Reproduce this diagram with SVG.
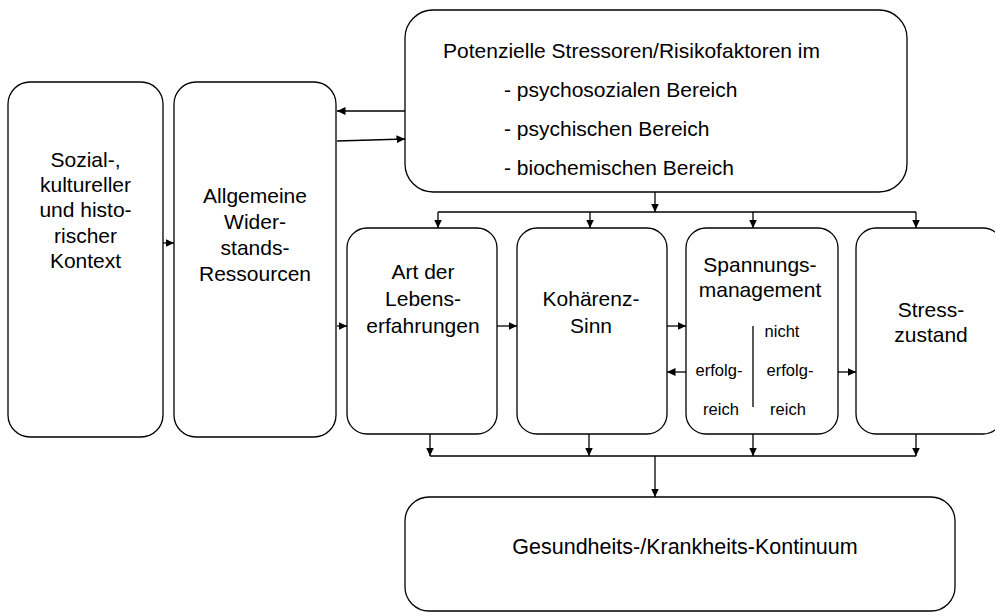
<svg xmlns="http://www.w3.org/2000/svg" width="995" height="616" viewBox="0 0 995 616">
<style>
.box{fill:#fff;stroke:#000;stroke-width:1.3}
.t{font-family:"Liberation Sans",Arial,sans-serif;font-size:21px;fill:#000;text-anchor:middle}
.ts{font-family:"Liberation Sans",Arial,sans-serif;font-size:21px;fill:#000}
.sm{font-family:"Liberation Sans",Arial,sans-serif;font-size:16.5px;fill:#000;text-anchor:middle}
.c{fill:none;stroke:#000;stroke-width:1.3}
.a{fill:none;stroke:#000;stroke-width:1.3;marker-end:url(#ah)}
</style>
<defs>
<marker id="ah" markerUnits="userSpaceOnUse" markerWidth="9" markerHeight="8" refX="8.5" refY="4" orient="auto">
<path d="M0,0 L8.5,4 L0,8 z" fill="#000"/>
</marker>
</defs>
<rect width="995" height="616" fill="#fff"/>
<g id="sozial">
<rect class="box" x="8" y="82" width="155" height="355" rx="22"/>
<text class="t" x="85.5" y="167">Sozial-,</text>
<text class="t" x="85.5" y="192">kultureller</text>
<text class="t" x="85.5" y="217">und histo-</text>
<text class="t" x="85.5" y="243">rischer</text>
<text class="t" x="85.5" y="268">Kontext</text>
</g>
<g id="allgemeine">
<rect class="box" x="174" y="82" width="162" height="355" rx="22"/>
<text class="t" x="255" y="203">Allgemeine</text>
<text class="t" x="255" y="229">Wider-</text>
<text class="t" x="255" y="255">stands-</text>
<text class="t" x="255" y="281">Ressourcen</text>
</g>
<g id="stressoren">
<rect class="box" x="405" y="10" width="502" height="182" rx="28"/>
<text class="ts" x="443" y="58">Potenzielle Stressoren/Risikofaktoren im</text>
<text class="ts" x="504" y="97">- psychosozialen Bereich</text>
<text class="ts" x="504" y="136">- psychischen Bereich</text>
<text class="ts" x="504" y="175">- biochemischen Bereich</text>
</g>
<g id="lebenserfahrungen">
<rect class="box" x="347" y="228" width="150" height="206" rx="20"/>
<text class="t" x="423" y="279">Art der</text>
<text class="t" x="423" y="306">Lebens-</text>
<text class="t" x="423" y="333">erfahrungen</text>
</g>
<g id="kohaerenz">
<rect class="box" x="517" y="228" width="150" height="206" rx="20"/>
<text class="t" x="591" y="306">Kohärenz-</text>
<text class="t" x="591" y="333">Sinn</text>
</g>
<g id="spannungsmanagement">
<rect class="box" x="686" y="228" width="152" height="206" rx="20"/>
<text class="t" x="760" y="272">Spannungs-</text>
<text class="t" x="760" y="297">management</text>
<path class="c" d="M753,326 V407"/>
<text class="sm" x="782" y="337">nicht</text>
<text class="sm" x="719" y="376">erfolg-</text>
<text class="sm" x="790" y="376">erfolg-</text>
<text class="sm" x="721" y="415">reich</text>
<text class="sm" x="788" y="415">reich</text>
</g>
<g id="stresszustand">
<rect class="box" x="856" y="228" width="147" height="206" rx="20"/>
<text class="t" x="931" y="317">Stress-</text>
<text class="t" x="931" y="342">zustand</text>
</g>
<g id="kontinuum">
<rect class="box" x="405" y="497" width="550" height="114" rx="24"/>
<text class="t" x="685" y="554" style="font-size:21.5px">Gesundheits-/Krankheits-Kontinuum</text>
</g>
<g id="connectors">
<path class="a" d="M163,243 H174"/>
<path class="a" d="M405,111 H337"/>
<path class="a" d="M337,141 L405,139"/>
<path class="a" d="M337,326 H347"/>
<path class="a" d="M655,192 V212"/>
<path class="c" d="M438,212 H916"/>
<path class="a" d="M438,212 V228"/>
<path class="a" d="M590,212 V228"/>
<path class="a" d="M753,212 V228"/>
<path class="a" d="M916,212 V228"/>
<path class="a" d="M497,326 H517"/>
<path class="a" d="M667,326 H686"/>
<path class="a" d="M686,372 H667"/>
<path class="a" d="M838,372 H856"/>
<path class="a" d="M430,434 V456"/>
<path class="a" d="M589,434 V456"/>
<path class="a" d="M753,434 V456"/>
<path class="a" d="M916,434 V456"/>
<path class="c" d="M430,456 H916"/>
<path class="a" d="M655,456 V497"/>
</g>
</svg>
